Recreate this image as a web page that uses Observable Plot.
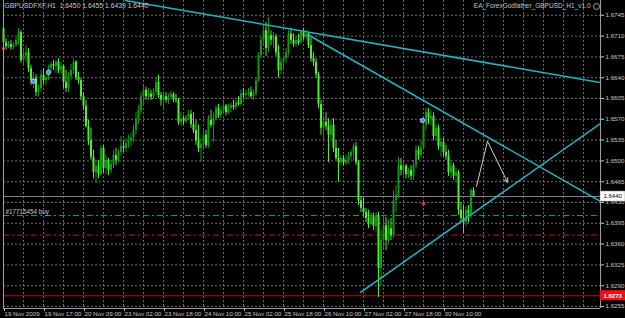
<!DOCTYPE html>
<html><head><meta charset="utf-8">
<script src="https://cdn.jsdelivr.net/npm/d3@7"></script>
<script src="https://cdn.jsdelivr.net/npm/@observablehq/plot@0.6"></script>
<style>html,body{margin:0;padding:0;background:#000;overflow:hidden}svg{display:block}</style>
</head><body><div id="chart"></div>
<script>
// GBPUSDFXF, H1 candles (bar index 0 = 19 Nov 2009)
const opens = [
1.6723,1.6699,1.6692,1.6696,1.6691,1.6694,1.6703,1.6716,1.6669,1.6677,
1.6682,1.6655,1.6635,1.6639,1.6615,1.6622,1.6644,1.6635,1.6639,1.6655,
1.6662,1.6659,1.6666,1.6652,1.6659,1.6632,1.6622,1.6642,1.6652,1.6666,
1.6640,1.6635,1.6608,1.6592,1.6558,1.6534,1.6506,1.6480,1.6491,1.6477,
1.6521,1.6487,1.6501,1.6484,1.6494,1.6509,1.6501,1.6514,1.6524,1.6521,
1.6529,1.6534,1.6538,1.6551,1.6571,1.6585,1.6608,1.6619,1.6608,1.6612,
1.6607,1.6615,1.6632,1.6610,1.6602,1.6608,1.6602,1.6607,1.6612,1.6603,
1.6602,1.6565,1.6571,1.6566,1.6573,1.6578,1.6561,1.6551,1.6534,1.6521,
1.6528,1.6543,1.6526,1.6568,1.6560,1.6571,1.6588,1.6576,1.6585,1.6592,
1.6581,1.6588,1.6593,1.6590,1.6598,1.6595,1.6613,1.6610,1.6612,1.6615,
1.6608,1.6613,1.6635,1.6677,1.6703,1.6719,1.6689,1.6711,1.6703,1.6709,
1.6682,1.6652,1.6666,1.6672,1.6682,1.6713,1.6703,1.6696,1.6703,1.6699,
1.6716,1.6708,1.6713,1.6694,1.6672,1.6666,1.6645,1.6595,1.6555,1.6565,
1.6558,1.6543,1.6560,1.6521,1.6504,1.6497,1.6504,1.6496,1.6501,1.6507,
1.6514,1.6524,1.6497,1.6433,1.6420,1.6413,1.6403,1.6393,1.6406,1.6390,
1.6408,1.6319,1.6366,1.6391,1.6366,1.6386,1.6374,1.6433,1.6442,1.6492,
1.6484,1.6491,1.6477,1.6484,1.6474,1.6492,1.6518,1.6509,1.6521,1.6560,
1.6581,1.6571,1.6575,1.6541,1.6555,1.6524,1.6531,1.6514,1.6507,1.6480,
1.6492,1.6474,1.6480,1.6417,1.6403,1.6396,1.6417,1.6410,1.6450];
const highs = [
1.6724,1.6706,1.6701,1.6703,1.6699,1.6708,1.6723,1.6719,1.6686,1.6694,
1.6689,1.6661,1.6649,1.6645,1.6627,1.6652,1.6655,1.6644,1.6661,1.6666,
1.6669,1.6669,1.6672,1.6666,1.6661,1.6652,1.6649,1.6662,1.6672,1.6669,
1.6649,1.6639,1.6615,1.6602,1.6568,1.6555,1.6518,1.6501,1.6501,1.6526,
1.6526,1.6509,1.6504,1.6501,1.6518,1.6521,1.6518,1.6541,1.6534,1.6538,
1.6543,1.6546,1.6560,1.6581,1.6593,1.6615,1.6625,1.6624,1.6622,1.6619,
1.6622,1.6639,1.6644,1.6615,1.6613,1.6615,1.6612,1.6617,1.6615,1.6612,
1.6605,1.6581,1.6576,1.6576,1.6585,1.6585,1.6581,1.6568,1.6560,1.6538,
1.6555,1.6551,1.6576,1.6585,1.6581,1.6593,1.6595,1.6592,1.6598,1.6595,
1.6595,1.6597,1.6602,1.6602,1.6608,1.6619,1.6622,1.6619,1.6622,1.6624,
1.6619,1.6639,1.6682,1.6709,1.6728,1.6733,1.6741,1.6719,1.6716,1.6713,
1.6694,1.6672,1.6677,1.6689,1.6719,1.6723,1.6714,1.6709,1.6713,1.6719,
1.6723,1.6719,1.6716,1.6706,1.6682,1.6672,1.6649,1.6602,1.6576,1.6581,
1.6571,1.6568,1.6571,1.6534,1.6521,1.6509,1.6509,1.6509,1.6514,1.6518,
1.6529,1.6531,1.6501,1.6440,1.6438,1.6420,1.6417,1.6413,1.6412,1.6413,
1.6413,1.6383,1.6403,1.6405,1.6400,1.6403,1.6450,1.6459,1.6506,1.6504,
1.6501,1.6494,1.6487,1.6492,1.6501,1.6526,1.6524,1.6534,1.6571,1.6588,
1.6588,1.6585,1.6581,1.6561,1.6560,1.6538,1.6538,1.6526,1.6518,1.6501,
1.6496,1.6487,1.6484,1.6430,1.6425,1.6423,1.6425,1.6454,1.6455];
const lows = [
1.6696,1.6687,1.6689,1.6686,1.6687,1.6691,1.6694,1.6664,1.6659,1.6666,
1.6649,1.6627,1.6622,1.6608,1.6607,1.6615,1.6629,1.6627,1.6635,1.6649,
1.6652,1.6647,1.6647,1.6645,1.6622,1.6615,1.6615,1.6635,1.6645,1.6635,
1.6629,1.6602,1.6585,1.6555,1.6526,1.6501,1.6470,1.6462,1.6470,1.6474,
1.6480,1.6477,1.6475,1.6479,1.6487,1.6492,1.6497,1.6507,1.6514,1.6514,
1.6521,1.6524,1.6531,1.6544,1.6561,1.6578,1.6595,1.6602,1.6602,1.6602,
1.6603,1.6610,1.6605,1.6592,1.6588,1.6597,1.6595,1.6602,1.6598,1.6597,
1.6560,1.6558,1.6561,1.6563,1.6568,1.6555,1.6546,1.6526,1.6514,1.6497,
1.6518,1.6521,1.6521,1.6555,1.6531,1.6568,1.6571,1.6571,1.6578,1.6576,
1.6578,1.6581,1.6585,1.6585,1.6592,1.6592,1.6605,1.6602,1.6607,1.6605,
1.6602,1.6608,1.6632,1.6672,1.6696,1.6676,1.6682,1.6694,1.6689,1.6676,
1.6639,1.6645,1.6655,1.6664,1.6677,1.6696,1.6691,1.6691,1.6694,1.6696,
1.6703,1.6703,1.6689,1.6666,1.6659,1.6639,1.6588,1.6543,1.6534,1.6551,
1.6497,1.6534,1.6514,1.6501,1.6464,1.6491,1.6491,1.6492,1.6494,1.6501,
1.6501,1.6492,1.6425,1.6413,1.6408,1.6396,1.6386,1.6390,1.6383,1.6380,
1.6270,1.6290,1.6353,1.6349,1.6361,1.6366,1.6369,1.6413,1.6437,1.6475,
1.6475,1.6470,1.6470,1.6467,1.6467,1.6487,1.6501,1.6504,1.6518,1.6551,
1.6561,1.6560,1.6534,1.6534,1.6518,1.6506,1.6507,1.6501,1.6474,1.6470,
1.6467,1.6464,1.6408,1.6396,1.6378,1.6390,1.6396,1.6403,1.6439];
const closes = [
1.6699,1.6692,1.6696,1.6691,1.6694,1.6703,1.6716,1.6669,1.6677,1.6682,
1.6655,1.6635,1.6639,1.6615,1.6622,1.6644,1.6635,1.6639,1.6655,1.6662,
1.6659,1.6666,1.6652,1.6659,1.6632,1.6622,1.6642,1.6652,1.6666,1.6640,
1.6635,1.6608,1.6592,1.6558,1.6534,1.6506,1.6480,1.6491,1.6477,1.6521,
1.6487,1.6501,1.6484,1.6494,1.6509,1.6501,1.6514,1.6524,1.6521,1.6529,
1.6534,1.6538,1.6551,1.6571,1.6585,1.6608,1.6619,1.6608,1.6612,1.6607,
1.6615,1.6632,1.6610,1.6602,1.6608,1.6602,1.6607,1.6612,1.6603,1.6602,
1.6565,1.6571,1.6566,1.6573,1.6578,1.6561,1.6551,1.6534,1.6521,1.6528,
1.6543,1.6526,1.6568,1.6560,1.6571,1.6588,1.6576,1.6585,1.6592,1.6581,
1.6588,1.6593,1.6590,1.6598,1.6595,1.6613,1.6610,1.6612,1.6615,1.6608,
1.6613,1.6635,1.6677,1.6703,1.6719,1.6689,1.6711,1.6703,1.6709,1.6682,
1.6652,1.6666,1.6672,1.6682,1.6713,1.6703,1.6696,1.6703,1.6699,1.6716,
1.6708,1.6713,1.6694,1.6672,1.6666,1.6645,1.6595,1.6555,1.6565,1.6558,
1.6543,1.6560,1.6521,1.6504,1.6497,1.6504,1.6496,1.6501,1.6507,1.6514,
1.6524,1.6497,1.6433,1.6420,1.6413,1.6403,1.6393,1.6406,1.6390,1.6408,
1.6319,1.6366,1.6391,1.6366,1.6386,1.6374,1.6433,1.6442,1.6492,1.6484,
1.6491,1.6477,1.6484,1.6474,1.6492,1.6518,1.6509,1.6521,1.6560,1.6581,
1.6571,1.6575,1.6541,1.6555,1.6524,1.6531,1.6514,1.6507,1.6480,1.6492,
1.6474,1.6480,1.6417,1.6403,1.6396,1.6417,1.6410,1.6450,1.6440];

// axes
const yTicks = [1.6255,1.6290,1.6325,1.6360,1.6395,1.6430,1.6465,1.6500,1.6535,1.6570,1.6605,1.6640,1.6675,1.6710,1.6745];
const xTickBars = [0,16,32,48,64,80,96,112,128,144,160,176];
const xTickLabels = ["19 Nov 2009","19 Nov 17:00","20 Nov 09:00","23 Nov 02:00","23 Nov 18:00","24 Nov 10:00","25 Nov 02:00","25 Nov 18:00","26 Nov 10:00","27 Nov 02:00","27 Nov 18:00","30 Nov 10:00"];
const xDomain = [0, 238.8];
const yDomain = [1.62516, 1.67699];

// header texts
const headerText = "GBPUSDFXF,H1  1.6450 1.6455 1.6439 1.6440";
const eaText = "EA_ForexGodfather_GBPUSD_H1_v1.0";

// levels
const bidPrice = 1.6440;
const buyLevel = 1.6408;
const buyLabel = "#17715454 buy";
const stopLevel = 1.6375;
const alertLevel = 1.6273;

// trend lines (bar index, price)
const topLineBars = [48.8, 238.8],  topLinePrices = [1.67699, 1.66319];
const midLineBars = [121.6, 238.8], midLinePrices = [1.67127, 1.64317];
const lowLineBars = [142.8, 238.8], lowLinePrices = [1.62786, 1.65629];
// hand-drawn forecast arrow
const arrowBars = [189.2, 193.6, 201.6], arrowPrices = [1.6457, 1.6533, 1.6464];
// trade arrows
const blueMarkBars = [12, 18, 167.6], blueMarkPrices = [1.6634, 1.6649, 1.6568];
const redMarkBars = [0, 168], redMarkPrices = [1.6689, 1.6428];

const bars = closes.map((c, i) => ({i, o: opens[i], h: highs[i], l: lows[i], c, up: c > opens[i]}));
const pts = (bs, ps) => bs.map((b, k) => ({x: b, y: ps[k]}));

const bright = "#4cf02c", dark = "#119a11";
const txt = "#c8c8c8", grid = "#676e76", cyan = "#1fb6c6";
const fmt = d3.format(".4f");
const boxW = 10, boxH = 0.00085;

const chart = Plot.plot({
  width: 625, height: 318,
  marginLeft: 3, marginRight: 25, marginTop: 0, marginBottom: 10,
  style: {background: "#000", color: txt, fontFamily: "'Liberation Sans', Arial, sans-serif", fontSize: "6px"},
  x: {domain: xDomain},
  y: {domain: yDomain},
  marks: [
    Plot.ruleY(yTicks, {stroke: grid, strokeDasharray: "2,2"}),
    Plot.ruleX(d3.range(8, 239, 8), {stroke: grid, strokeDasharray: "2,2"}),
    Plot.ruleY([stopLevel], {stroke: "#a01414", strokeWidth: 1.3, strokeDasharray: "6,3,2,3"}),
    Plot.ruleY([buyLevel], {stroke: "#2aa02a", strokeDasharray: "6,3,2,3"}),
    Plot.ruleY([alertLevel], {stroke: "#c01010"}),
    Plot.ruleY([bidPrice], {stroke: "#7d858d"}),
    Plot.ruleX(bars, {x: "i", y1: "l", y2: "h", stroke: d => d.up ? dark : bright, strokeWidth: 1}),
    Plot.ruleX(bars, {x: "i", y1: "o", y2: "c", stroke: d => d.up ? dark : bright, strokeWidth: 2}),
    Plot.line(pts(topLineBars, topLinePrices), {x: "x", y: "y", stroke: cyan, strokeWidth: 1.5, clip: true}),
    Plot.line(pts(midLineBars, midLinePrices), {x: "x", y: "y", stroke: cyan, strokeWidth: 1.5, clip: true}),
    Plot.line(pts(lowLineBars, lowLinePrices), {x: "x", y: "y", stroke: cyan, strokeWidth: 1.5, clip: true}),
    Plot.line(pts(arrowBars.slice(0, 2), arrowPrices.slice(0, 2)), {x: "x", y: "y", stroke: "#d0d0d0", strokeWidth: 1}),
    Plot.arrow([{x1: arrowBars[1], y1: arrowPrices[1], x2: arrowBars[2], y2: arrowPrices[2]}],
      {x1: "x1", y1: "y1", x2: "x2", y2: "y2", stroke: "#d0d0d0", strokeWidth: 1, headLength: 7}),
    Plot.dot(pts(redMarkBars, redMarkPrices), {x: "x", y: "y", r: 1.6, fill: "#ff3050"}),
    Plot.dot(pts(blueMarkBars, blueMarkPrices), {x: "x", y: "y", r: 2.2, fill: "#3a8cff", stroke: "#dfefff", strokeWidth: 0.7}),
    Plot.text([{x: 0.8, y: buyLevel, t: buyLabel}], {x: "x", y: "y", text: "t", textAnchor: "start", dy: -4, fill: txt, fontSize: 6.3}),
    Plot.text([headerText], {frameAnchor: "top-left", dx: 1, dy: 3, textAnchor: "start", lineAnchor: "top", fill: txt, fontSize: 6.8}),
    Plot.text([eaText], {frameAnchor: "top-right", dx: -10, dy: 3, textAnchor: "end", lineAnchor: "top", fill: txt, fontSize: 6.5}),
    Plot.dot([0], {frameAnchor: "top-right", dx: -4, dy: 6, r: 3, stroke: txt, strokeWidth: 0.8, fill: "none"}),
    Plot.ruleX([xDomain[0], xDomain[1]], {stroke: "#a0a0a0"}),
    Plot.ruleY([yDomain[0]], {stroke: "#a0a0a0"}),
    Plot.axisY(yTicks, {anchor: "right", tickSize: 3, tickPadding: 2, tickFormat: fmt, fontSize: 6.2, color: txt}),
    Plot.axisX(xTickBars, {anchor: "bottom", tickSize: 3, tickPadding: 0, tickFormat: d => xTickLabels[xTickBars.indexOf(d)], textAnchor: "start", dx: 1, fontSize: 6.2, color: txt}),
    Plot.rect([{p: bidPrice}], {x1: xDomain[1], x2: xDomain[1] + boxW, y1: d => d.p - boxH, y2: d => d.p + boxH, fill: "#ffffff", stroke: "#808080", strokeWidth: 0.5}),
    Plot.text([bidPrice], {x: xDomain[1], y: d => d, text: fmt, dx: 3, textAnchor: "start", fill: "#000", fontSize: 6}),
    Plot.rect([{p: alertLevel}], {x1: xDomain[1], x2: xDomain[1] + boxW, y1: d => d.p - boxH, y2: d => d.p + boxH, fill: "#ee1111"}),
    Plot.text([alertLevel], {x: xDomain[1], y: d => d, text: fmt, dx: 3, textAnchor: "start", fill: "#fff", fontSize: 6, fontWeight: "bold"})
  ]
});
document.getElementById("chart").appendChild(chart);
</script>
</body></html>
